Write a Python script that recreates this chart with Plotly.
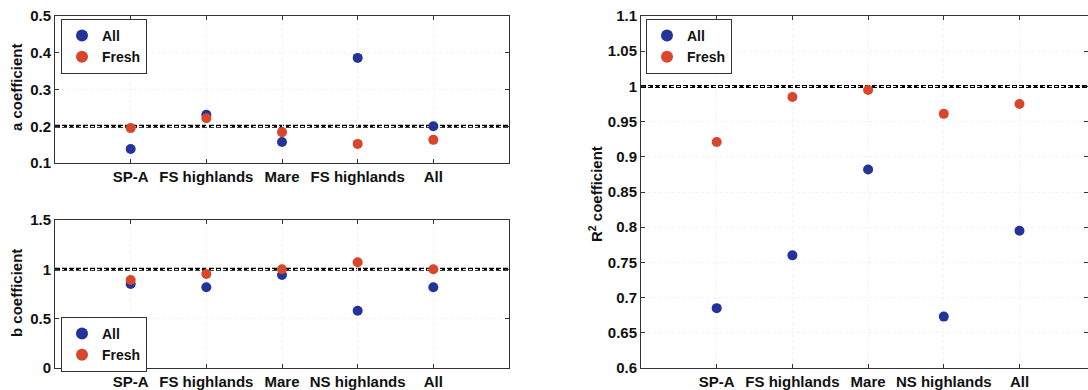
import plotly.graph_objects as go

# ---- data ----
x_pos = [1, 2, 3, 4, 5]
labels_a = ["SP-A", "FS highlands", "Mare", "FS highlands", "All"]
labels_b = ["SP-A", "FS highlands", "Mare", "NS highlands", "All"]
labels_r2 = ["SP-A", "FS highlands", "Mare", "NS highlands", "All"]

a_all = [0.138, 0.231, 0.157, 0.386, 0.200]
a_fresh = [0.195, 0.222, 0.184, 0.152, 0.163]
b_all = [0.851, 0.818, 0.943, 0.581, 0.818]
b_fresh = [0.892, 0.953, 1.000, 1.071, 1.000]
r2_all = [0.685, 0.760, 0.882, 0.673, 0.795]
r2_fresh = [0.921, 0.985, 0.995, 0.961, 0.975]

ref_a = 0.2
ref_b = 1.0
ref_r2 = 1.0

BLUE = "#23339a"
RED = "#d8462b"
FONT = "Liberation Sans"

fig = go.Figure()

panels = [
    ("x", "y", a_all, a_fresh, "legend"),
    ("x2", "y2", b_all, b_fresh, "legend2"),
    ("x3", "y3", r2_all, r2_fresh, "legend3"),
]
for xa, ya, s_all, s_fresh, lg in panels:
    fig.add_trace(go.Scatter(x=x_pos, y=s_all, mode="markers", name="All",
                             marker=dict(color=BLUE, size=10), xaxis=xa, yaxis=ya, legend=lg))
    fig.add_trace(go.Scatter(x=x_pos, y=s_fresh, mode="markers", name="Fresh",
                             marker=dict(color=RED, size=10), xaxis=xa, yaxis=ya, legend=lg))

W, H = 1088, 390
def px_x(p): return p / W
def px_y(p): return 1 - p / H

axis_common = dict(showline=True, linecolor="#333333", linewidth=1, mirror="ticks",
                   ticks="inside", ticklen=4, tickcolor="#333333",
                   showgrid=True, gridcolor="#f3f3f3", griddash="dot", zeroline=False,
                   tickfont=dict(family=FONT, size=15, color="#111111", weight="bold"),
                   automargin=False)

fig.update_layout(
    width=W, height=H, margin=dict(l=0, r=0, t=0, b=0),
    paper_bgcolor="white", plot_bgcolor="white",
    xaxis=dict(domain=[px_x(55), px_x(509)], range=[0, 6], tickvals=x_pos, ticktext=labels_a,
               anchor="y", **axis_common),
    yaxis=dict(domain=[px_y(163), px_y(16)], range=[0.1, 0.5], dtick=0.1, anchor="x", **axis_common),
    xaxis2=dict(domain=[px_x(55), px_x(509)], range=[0, 6], tickvals=x_pos, ticktext=labels_b,
                anchor="y2", **axis_common),
    yaxis2=dict(domain=[px_y(368), px_y(220)], range=[0, 1.5], dtick=0.5, anchor="x2", **axis_common),
    xaxis3=dict(domain=[px_x(641), 1.0], range=[0, (1088 - 641) / 75.7], tickvals=x_pos,
                ticktext=labels_r2, anchor="y3", **axis_common),
    yaxis3=dict(domain=[px_y(368), px_y(16)], range=[0.6, 1.1], dtick=0.05, anchor="x3", **axis_common),
)

legend_common = dict(bgcolor="white", bordercolor="#333333", borderwidth=1,
                     font=dict(family=FONT, size=14, color="#111111", weight="bold"),
                     xanchor="left", yanchor="top", itemsizing="constant", tracegroupgap=0)
fig.update_layout(
    legend=dict(x=px_x(61), y=px_y(19), **legend_common),
    legend2=dict(x=px_x(61), y=px_y(317), **legend_common),
    legend3=dict(x=px_x(646), y=px_y(19), **legend_common),
)

for yref, val in [("y", ref_a), ("y2", ref_b), ("y3", ref_r2)]:
    xref = {"y": "x", "y2": "x2", "y3": "x3"}[yref] + " domain"
    fig.add_shape(type="line", xref=xref, yref=yref, x0=0, x1=1, y0=val, y1=val,
                  line=dict(color="black", width=3, dash="5px,2px"), layer="below")

title_font = dict(family=FONT, size=15, color="#111111", weight="bold")
for text, xp, yp in [("a coefficient", 16, 87), ("b coefficient", 16, 293),
                     ("R<sup>2</sup> coefficient", 595, 194)]:
    fig.add_annotation(text=text, xref="paper", yref="paper", x=px_x(xp), y=px_y(yp),
                       textangle=-90, showarrow=False, font=title_font,
                       xanchor="center", yanchor="middle")

fig.write_html("out.html")
